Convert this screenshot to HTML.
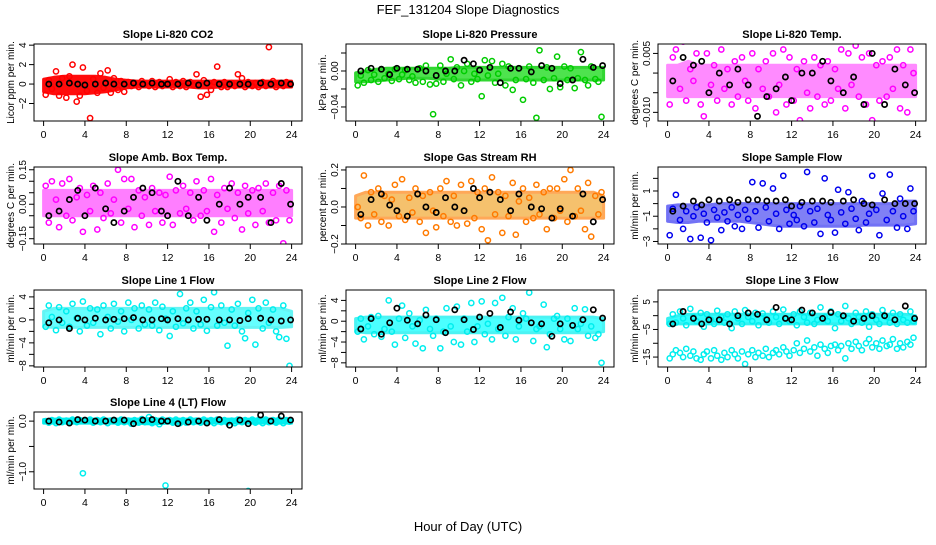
<!DOCTYPE html>
<html><head><meta charset="utf-8"><style>
body{margin:0;background:#fff}
svg text{font-family:"Liberation Sans",Arial,sans-serif}
</style></head><body>
<svg id="chart" width="936" height="540" viewBox="0 0 936 540" xmlns="http://www.w3.org/2000/svg">
<rect width="936" height="540" fill="#fff"/>
<text x="468" y="14" text-anchor="middle" font-size="13">FEF_131204  Slope Diagnostics</text>
<text x="468" y="531" text-anchor="middle" font-size="13">Hour of Day (UTC)</text>
</svg>
<script>
const hours=[0.2,0.5,0.8,1.2,1.5,1.8,2.2,2.5,2.8,3.2,3.5,3.8,4.2,4.5,4.8,5.2,5.5,5.8,6.2,6.5,6.8,7.2,7.5,7.8,8.2,8.5,8.8,9.2,9.5,9.8,10.2,10.5,10.8,11.2,11.5,11.8,12.2,12.5,12.8,13.2,13.5,13.8,14.2,14.5,14.8,15.2,15.5,15.8,16.2,16.5,16.8,17.2,17.5,17.8,18.2,18.5,18.8,19.2,19.5,19.8,20.2,20.5,20.8,21.2,21.5,21.8,22.2,22.5,22.8,23.2,23.5,23.8];
const blackHours=[0.5,1.5,2.5,3.3,4.0,5.0,6.0,6.8,7.8,8.7,9.6,10.5,11.4,12.0,13.0,14.0,15.0,15.8,17.0,18.0,19.0,19.8,21.0,22.0,23.0,23.9];
const bandHours=[0,1,2,3,4,5,6,7,8,9,10,11,12,13,14,15,16,17,18,19,20,21,22,23,24];
const xTicks=[0,4,8,12,16,20,24];

const co2Lo=[-0.8,-1,-1,-1,-1,-0.9,-0.8,-0.6,-0.4,-0.3,-0.3,-0.3,-0.3,-0.3,-0.3,-0.4,-0.4,-0.3,-0.3,-0.3,-0.3,-0.3,-0.3,-0.3,-0.3];
const co2Hi=[0.5,0.7,0.8,0.8,0.8,0.8,0.7,0.5,0.4,0.3,0.3,0.3,0.3,0.3,0.3,0.3,0.3,0.3,0.3,0.3,0.3,0.3,0.3,0.3,0.3];
const co2Pts=[-1.1,0.4,-0.5,1.3,-1.2,0.6,-1.4,0.8,2.0,-1.8,-1.2,1.7,-0.7,-3.5,0.5,-0.9,1.1,-0.4,1.4,-0.9,0.6,-0.6,0.3,-0.8,0.2,-0.2,0.1,-0.3,0.3,0.0,-0.2,0.3,-0.3,0.2,-0.2,0.1,0.5,-0.3,0.2,-0.2,0.3,-0.3,0.2,-0.1,1.0,-1.3,0.4,-1.1,-0.6,0.2,1.8,-0.3,0.2,-0.3,0.1,-0.2,1.0,0.6,-0.3,0.2,-0.2,0.1,-0.3,0.2,-0.2,3.8,0.3,-0.3,0.1,-0.2,0.2,-0.1];
const co2Blk=[0,0,0.1,0,-0.1,0,0.1,0,0,0.1,0,0.1,0,0,0,0.1,-0.1,0.1,0,0,0,0,0.1,0,0.1,0];

const presLo=[-0.012,-0.012,-0.011,-0.01,-0.009,-0.008,-0.008,-0.008,-0.009,-0.009,-0.01,-0.01,-0.01,-0.01,-0.01,-0.01,-0.01,-0.01,-0.01,-0.01,-0.01,-0.01,-0.01,-0.01,-0.01];
const presHi=[-0.002,0.0,0.002,0.003,0.003,0.003,0.003,0.003,0.003,0.003,0.004,0.004,0.004,0.004,0.004,0.004,0.004,0.004,0.004,0.004,0.004,0.004,0.004,0.004,0.004];
const presPts=[-0.016,-0.005,-0.013,0.001,-0.01,-0.004,-0.012,0.002,-0.008,-0.003,-0.011,0.002,-0.009,-0.004,0.001,-0.01,-0.006,-0.013,0.003,-0.012,0.006,-0.015,-0.048,-0.014,0.006,-0.012,-0.003,0.013,-0.009,0.004,-0.016,0.0,0.008,-0.012,-0.003,-0.009,-0.028,0.012,-0.005,0.011,-0.013,-0.003,0.008,-0.016,0.005,-0.021,-0.01,0.003,-0.032,-0.009,0.005,-0.013,-0.052,0.023,-0.01,0.004,-0.02,-0.008,0.016,-0.018,0.005,-0.01,0.003,-0.019,-0.008,0.021,-0.01,-0.016,0.005,-0.009,-0.012,-0.051];
const presBlk=[0.0,0.003,0.002,-0.004,0.003,0.002,0.002,0.0,-0.005,0.0,0.0,0.012,0.008,0.001,0.004,-0.013,0.003,0.003,-0.001,0.006,0.003,-0.014,-0.01,0.013,0.004,0.006];

const tempLo=[-0.006,-0.006,-0.006,-0.006,-0.006,-0.006,-0.006,-0.006,-0.006,-0.006,-0.006,-0.006,-0.006,-0.006,-0.006,-0.006,-0.006,-0.006,-0.006,-0.006,-0.006,-0.006,-0.006,-0.006,-0.006];
const tempHi=[0.002,0.002,0.003,0.002,0.002,0.002,0.002,0.002,0.002,0.002,0.002,0.002,0.002,0.002,0.002,0.002,0.002,0.002,0.002,0.002,0.002,0.002,0.002,0.002,0.002];
const tempPts=[-0.008,0.004,0.006,-0.004,0.008,-0.007,0.001,-0.002,0.005,-0.008,-0.011,0.005,-0.003,0.002,-0.007,0.006,-0.004,0.001,-0.008,0.003,-0.006,0.004,-0.002,-0.007,0.005,-0.009,0.001,-0.004,0.003,-0.006,0.005,-0.01,-0.003,0.006,-0.008,0.004,-0.007,0.001,-0.012,0.003,-0.005,-0.009,0.004,-0.006,0.002,-0.008,0.003,-0.007,0.001,-0.004,0.006,-0.009,0.005,-0.003,0.007,-0.006,0.004,-0.008,0.005,-0.012,0.002,-0.007,0.003,-0.006,0.004,-0.004,0.006,-0.009,0.002,-0.01,0.006,0.0];
const tempBlk=[-0.002,0.004,0.002,0.003,-0.005,0.0,-0.003,0.001,-0.003,-0.011,-0.006,-0.004,-0.001,-0.007,0.0,0.0,0.003,-0.002,-0.005,-0.001,-0.008,0.005,-0.008,0.001,-0.003,-0.005];

const ambLo=[-0.05,-0.05,-0.05,-0.05,-0.05,-0.05,-0.05,-0.05,-0.05,-0.05,-0.05,-0.05,-0.05,-0.05,-0.05,-0.05,-0.05,-0.05,-0.05,-0.05,-0.05,-0.05,-0.05,-0.05,-0.05];
const ambHi=[0.06,0.06,0.06,0.06,0.06,0.06,0.06,0.06,0.06,0.06,0.06,0.06,0.06,0.06,0.06,0.06,0.06,0.06,0.06,0.06,0.06,0.06,0.06,0.06,0.06];
const ambPts=[0.08,-0.08,0.1,0.02,-0.1,0.09,-0.05,0.11,-0.07,0.03,0.07,-0.12,0.04,-0.03,0.08,-0.11,0.05,-0.06,0.09,-0.04,0.02,0.15,-0.08,0.11,-0.02,0.11,-0.1,0.06,-0.05,0.03,-0.09,0.07,-0.03,0.05,-0.08,0.04,0.12,-0.09,0.06,-0.04,0.08,-0.02,0.05,-0.07,0.1,-0.05,0.06,-0.03,0.11,-0.12,0.04,-0.08,0.07,-0.02,0.09,-0.06,0.05,-0.11,0.08,-0.04,0.06,-0.09,0.07,-0.03,0.09,-0.08,0.05,-0.07,0.08,-0.17,0.06,-0.07];
const ambBlk=[-0.05,-0.03,0.02,0.06,-0.05,0.07,-0.02,-0.08,-0.03,0.03,0.07,0.05,-0.03,-0.05,0.1,-0.05,0.03,-0.07,0.0,0.07,0.0,0.03,0.03,-0.08,0.09,0.0];

const rhLo=[-0.06,-0.06,-0.06,-0.06,-0.06,-0.06,-0.06,-0.06,-0.06,-0.06,-0.06,-0.06,-0.06,-0.06,-0.06,-0.06,-0.06,-0.06,-0.06,-0.06,-0.06,-0.06,-0.06,-0.06,-0.06];
const rhHi=[0.06,0.08,0.08,0.08,0.08,0.08,0.08,0.08,0.08,0.08,0.08,0.08,0.08,0.08,0.08,0.08,0.08,0.08,0.08,0.08,0.08,0.08,0.08,0.08,0.06];
const rhPts=[0.0,-0.06,0.17,-0.1,0.08,-0.04,0.1,-0.08,0.06,-0.1,0.04,0.12,-0.05,0.15,-0.07,0.05,-0.03,0.1,-0.08,0.06,-0.14,0.08,-0.02,-0.11,0.1,-0.05,0.14,-0.08,0.06,-0.1,0.12,-0.02,-0.09,0.14,-0.06,0.08,-0.12,0.1,-0.18,0.16,-0.04,0.08,-0.14,0.06,-0.05,0.13,-0.15,0.03,0.1,-0.08,0.05,-0.06,0.12,-0.04,0.08,-0.12,0.1,-0.06,0.1,-0.02,0.15,-0.08,0.2,-0.05,0.1,-0.02,-0.12,0.13,-0.16,0.06,-0.04,0.08];
const rhBlk=[-0.04,0.04,0.07,0.01,-0.02,-0.05,0.07,0.0,-0.03,0.05,0.0,-0.02,0.1,0.05,0.08,0.04,-0.02,0.07,0.0,-0.01,-0.06,-0.01,-0.05,0.07,-0.08,0.04];

const smpLo=[-1.4,-1.5,-1.5,-1.4,-1.4,-1.4,-1.4,-1.4,-1.5,-1.6,-1.7,-1.8,-1.8,-1.8,-1.8,-1.8,-1.8,-1.8,-1.8,-1.7,-1.7,-1.7,-1.7,-1.7,-1.6];
const smpHi=[-0.2,-0.1,-0.1,-0.1,-0.1,0.0,0.0,0.0,0.0,0.0,0.0,0.0,0.0,0.0,0.0,0.0,0.0,0.0,0.0,0.0,0.0,0.0,0.0,0.2,0.2];
const smpPts=[-2.5,-0.4,0.7,-1.3,-2.0,-0.6,-2.8,-1.0,-0.3,-2.7,-0.8,-1.5,-2.9,-0.5,-1.1,-2.1,-0.7,-1.4,-0.3,-1.8,-0.9,-2.0,-0.5,-1.2,1.7,-0.6,-1.9,1.6,-0.3,-1.4,1.2,-0.8,-2.0,2.2,-0.5,-1.6,-0.9,-1.3,-0.2,-1.8,2.5,-0.6,-1.5,-0.4,-2.4,2.0,-0.9,-1.3,-2.3,1.1,-0.7,-1.6,0.9,-0.4,-1.2,-2.1,0.2,-1.5,-0.8,2.2,-0.5,-2.5,0.8,-1.3,2.3,-0.6,-1.9,0.4,-1.0,-2.0,1.2,-0.6];
const smpBlk=[-0.6,-0.2,0.2,-0.1,0.3,0.2,0.3,0.1,0.3,0.3,0.2,0.2,0.3,-0.2,0.1,0.2,0.2,0.1,0.2,0.3,0.0,-0.1,0.3,0.0,0.0,0.0];

const l1Lo=[-1.2,-1.3,-1.3,-1.3,-1.3,-1.3,-1.3,-1.3,-1.3,-1.3,-1.3,-1.3,-1.3,-1.3,-1.3,-1.3,-1.3,-1.3,-1.3,-1.3,-1.3,-1.3,-1.3,-1.3,-1.2];
const l1Hi=[1.5,2.0,2.0,2.0,2.0,2.0,2.0,2.0,2.0,2.0,2.0,2.0,2.0,2.0,2.0,2.0,2.0,2.0,2.0,2.0,2.0,2.0,2.0,2.0,1.5];
const l1Pts=[-1.2,2.5,0.5,-1.8,2.2,-0.5,1.5,-1.2,2.8,0.3,-2.0,3.2,-1.0,2.0,-0.5,1.8,-2.5,2.5,0.5,-1.5,2.8,-0.3,1.5,-2.0,3.0,0.0,2.0,-1.5,2.5,-0.8,1.8,-1.0,3.0,-1.8,2.3,0.2,-2.8,1.5,-1.2,4.5,-0.6,2.0,3.0,-1.5,1.5,-0.8,3.5,-1.9,2.2,4.8,-1.0,2.5,-0.5,-4.5,1.8,-1.0,2.8,-2.0,-3.2,1.2,3.5,-4.3,2.0,-1.5,3.0,-0.5,1.8,-2.0,-3.0,2.5,-3.3,-8.0];
const l1Blk=[-0.5,0.0,-1.5,0.3,0.0,0.3,0.0,0.1,0.2,0.4,0.0,0.0,0.2,0.0,0.2,0.0,0.1,0.1,0.0,0.0,-0.1,0.2,0.3,0.0,-0.2,0.0];

const l2Lo=[-2.0,-2.2,-2.2,-2.2,-2.2,-2.2,-2.2,-2.2,-2.2,-2.2,-2.2,-2.2,-2.2,-2.2,-2.2,-2.2,-2.2,-2.2,-2.2,-2.2,-2.2,-2.2,-2.2,-2.2,-2.0];
const l2Hi=[0.5,0.8,0.8,0.8,0.8,0.8,0.8,0.8,0.8,0.8,0.8,0.8,0.8,0.8,0.8,0.8,0.8,0.8,0.8,0.8,0.8,0.8,0.8,0.8,0.5];
const l2Pts=[-2.0,0.5,-3.5,-1.0,0.8,-2.5,1.0,-3.0,-1.5,4.0,-2.0,-4.5,0.5,3.0,-3.2,1.5,-1.0,-4.3,0.2,-5.2,2.2,-1.5,-2.8,0.5,-5.2,-2.0,2.5,-1.0,-4.0,2.8,-4.5,0.5,-2.0,3.5,-4.0,-1.0,3.8,-2.5,-0.5,-3.5,3.5,-1.5,4.5,-2.8,0.8,2.5,-3.5,-1.0,1.5,0.5,5.5,-3.8,-1.5,-1.0,3.2,-5.0,-2.5,0.5,1.0,-1.5,-3.5,0.5,-3.8,2.5,-1.5,-0.5,2.3,-2.8,-1.0,-3.2,-2.5,-8.0];
const l2Blk=[-1.5,0.5,-2.5,-0.3,2.5,0.2,-0.5,1.2,0.3,-2.2,2.2,0.3,-1.6,0.8,1.5,-1.2,1.8,0.2,-0.3,-0.5,-2.9,-0.5,-0.8,0.3,2.2,0.6];

const l3Lo=[-3.0,-3.0,-3.0,-3.0,-3.0,-3.0,-3.0,-3.0,-3.0,-3.0,-3.0,-3.0,-3.0,-3.0,-3.0,-3.0,-3.0,-3.0,-3.0,-3.0,-3.0,-3.0,-3.0,-3.0,-3.0];
const l3Hi=[-1.0,0.0,0.5,0.5,0.5,0.5,0.5,0.5,0.5,0.5,0.5,0.5,0.5,0.5,0.5,0.5,0.5,0.5,0.5,0.5,0.5,0.5,0.5,0.5,0.0];
const l3Pts=[-3,0.5,-2.5,1.5,-1.0,-3.5,2.5,-0.5,-2.0,1.0,-4.0,0.5,-1.5,-3.0,1.8,-0.5,-2.5,0.5,-4.5,1.5,-1.0,-3.0,2.0,-0.5,-2.0,1.0,-3.5,0.8,-1.2,-2.5,1.5,-0.5,-3.0,2.2,-1.0,-2.0,0.5,-3.5,1.5,-0.5,-2.5,1.0,-3.0,-1.5,3.0,-0.5,-2.0,1.5,-4.5,0.5,-2.0,3.5,-1.0,-3.0,1.0,-0.5,-2.5,1.5,-4.0,0.5,-1.5,-3.0,2.0,-0.5,-2.5,1.0,-3.0,0.5,-1.5,-2.5,1.5,-2.0];
const l3LowPts=[-15.5,-14,-12.5,-13.5,-15,-12,-14.5,-13,-15.5,-16,-14,-13,-15.5,-12.5,-14.5,-16,-13.5,-15,-12.5,-14,-15.5,-13,-17.5,-14,-12.5,-15,-13.5,-14.5,-12,-15,-13.5,-12.5,-14,-11.5,-13,-14.5,-12.5,-10,-13.5,-12,-9,-13,-11.5,-14.5,-10.5,-12,-13.5,-11,-10.5,-12.5,-11,-15.5,-10,-12,-9.5,-11,-12.5,-10,-8.5,-11.5,-10,-12,-9,-11,-10.5,-8.5,-12,-10,-11.5,-9.5,-10.5,-8];
const l3Blk=[-3,1.5,-1,-3,-1.5,-1.5,-3,0,1,0.5,-1.5,3,-1,-1.5,2,1,-1,1.2,0,-2,-1,0,0,-1.5,3.5,-1];

const l4Lo=[-0.04,-0.04,-0.04,-0.04,-0.04,-0.04,-0.04,-0.04,-0.04,-0.04,-0.05,-0.05,-0.04,-0.04,-0.04,-0.04,-0.04,-0.04,-0.04,-0.04,-0.04,-0.04,-0.04,-0.04,-0.04];
const l4Hi=[0.03,0.04,0.04,0.04,0.04,0.04,0.04,0.04,0.04,0.04,0.05,0.04,0.04,0.04,0.04,0.04,0.04,0.04,0.04,0.04,0.04,0.04,0.04,0.04,0.03];
const l4Pts=[0.0,-0.03,0.02,-0.04,0.03,-0.02,0.01,-0.03,0.03,-0.02,0.02,-1.03,0.0,0.03,-0.03,0.02,-0.02,0.03,-0.04,0.01,0.02,-0.03,0.03,-0.02,0.01,-0.05,0.02,-0.03,0.04,-0.02,0.08,-0.04,0.02,-0.06,0.03,-1.27,0.02,-0.03,0.03,-0.04,0.02,-0.03,0.03,-0.02,0.01,-0.03,0.03,-0.02,0.02,-0.04,0.03,-0.02,0.02,-0.03,0.01,-0.04,0.03,-0.02,0.02,-1.38,0.03,-0.03,0.02,-0.04,0.03,-0.02,0.02,-0.03,0.03,-0.04,0.02,-0.01];
const l4Blk=[0,-0.02,-0.04,0.03,0.02,0.0,0.0,0.02,0.02,-0.05,0.02,0.03,0.0,0.0,-0.05,-0.02,0.0,-0.04,0.03,-0.08,0.02,-0.05,0.12,0.0,0.1,0.02];

const panels=[
 {name:'co2',title:'Slope Li-820 CO2',ylab:'Licor ppm per min.',col:0,row:0,ymin:-3.8,ymax:4.12,ticks:[-2,0,2,4],labels:['\u22122','0','2','4'],color:'#ff0000',fill:'#ff0000',op:0.95,lo:co2Lo,hi:co2Hi,pts:[co2Pts],blk:co2Blk},
 {name:'pressure',title:'Slope Li-820 Pressure',ylab:'kPa per min.',col:1,row:0,ymin:-0.0556,ymax:0.030,ticks:[-0.04,-0.02,0,0.02],labels:['\u22120.04','','0.00',''],color:'#00cc00',fill:'#22dd22',op:0.8,lo:presLo,hi:presHi,pts:[presPts],blk:presBlk},
 {name:'li820-temp',title:'Slope Li-820 Temp.',ylab:'degrees C per min.',col:2,row:0,ymin:-0.0122,ymax:0.0074,ticks:[-0.01,-0.005,0,0.005],labels:['\u22120.010','','','0.005'],color:'#ff00ff',fill:'#ff00ff',op:0.45,lo:tempLo,hi:tempHi,pts:[tempPts],blk:tempBlk},
 {name:'amb-box-temp',title:'Slope Amb. Box Temp.',ylab:'degrees C per min.',col:0,row:1,ymin:-0.173,ymax:0.162,ticks:[-0.15,-0.1,-0.05,0,0.05,0.1,0.15],labels:['\u22120.15','','','0.00','','','0.15'],color:'#ff00ff',fill:'#ff00ff',op:0.5,lo:ambLo,hi:ambHi,pts:[ambPts],blk:ambBlk},
 {name:'gas-stream-rh',title:'Slope Gas Stream RH',ylab:'percent per min.',col:1,row:1,ymin:-0.2,ymax:0.216,ticks:[-0.2,-0.1,0,0.1,0.2],labels:['\u22120.2','','0.0','','0.2'],color:'#ff7a00',fill:'#f0a020',op:0.65,lo:rhLo,hi:rhHi,pts:[rhPts],blk:rhBlk},
 {name:'sample-flow',title:'Slope Sample Flow',ylab:'ml/min per min.',col:2,row:1,ymin:-3.2,ymax:2.9,ticks:[-3,-2,-1,0,1,2],labels:['\u22123','','\u22121','','1',''],color:'#0000ee',fill:'#1a1aee',op:0.55,lo:smpLo,hi:smpHi,pts:[smpPts],blk:smpBlk},
 {name:'line1-flow',title:'Slope Line 1 Flow',ylab:'ml/min per min.',col:0,row:2,ymin:-8.2,ymax:5.2,ticks:[-8,-6,-4,-2,0,2,4],labels:['\u22128','','\u22124','','0','','4'],color:'#00eeee',fill:'#00ffff',op:0.6,lo:l1Lo,hi:l1Hi,pts:[l1Pts],blk:l1Blk},
 {name:'line2-flow',title:'Slope Line 2 Flow',ylab:'ml/min per min.',col:1,row:2,ymin:-8.8,ymax:6.0,ticks:[-8,-6,-4,-2,0,2,4],labels:['\u22128','','\u22124','','0','','4'],color:'#00eeee',fill:'#00ffff',op:0.7,lo:l2Lo,hi:l2Hi,pts:[l2Pts],blk:l2Blk},
 {name:'line3-flow',title:'Slope Line 3 Flow',ylab:'ml/min per min.',col:2,row:2,ymin:-18.6,ymax:9.3,ticks:[-15,-10,-5,0,5],labels:['\u221215','','\u22125','','5'],color:'#00eeee',fill:'#00ffff',op:0.8,lo:l3Lo,hi:l3Hi,pts:[l3Pts,l3LowPts],blk:l3Blk},
 {name:'line4-flow',title:'Slope Line 4 (LT) Flow',ylab:'ml/min per min.',col:0,row:3,ymin:-1.34,ymax:0.18,ticks:[-1,-0.5,0],labels:['\u22121.0','','0.0'],color:'#00eeee',fill:'#00ffff',op:1,lo:l4Lo,hi:l4Hi,pts:[l4Pts],blk:l4Blk}
];

const svg=document.getElementById('chart');
const NS='http://www.w3.org/2000/svg';
const colX=[34,346,658], rowY=[44,167,290,412], W=268, H=77;
function mk(tag,attrs,parent){const e=document.createElementNS(NS,tag);for(const k in attrs)e.setAttribute(k,attrs[k]);parent.appendChild(e);return e;}

panels.forEach(p=>{
  const x0=colX[p.col], y0=rowY[p.row];
  const sx=h=>x0+9.6+h*248/24;
  const sy=v=>y0+H-(v-p.ymin)/(p.ymax-p.ymin)*H;
  const g=mk('g',{},svg);
  
  
  const t=mk('text',{x:x0+W/2,y:y0-6,'text-anchor':'middle','font-size':'11','font-weight':'bold'},g);
  t.textContent=p.title;
  
  
  const clip=mk('clipPath',{id:'c'+p.name},g);
  mk('rect',{x:x0,y:y0,width:W,height:H},clip);
  const plot=mk('g',{'clip-path':'url(#c'+p.name+')'},g);
  let d='';
  bandHours.forEach((h,i)=>{d+=(i?'L':'M')+sx(h).toFixed(1)+','+sy(p.hi[i]).toFixed(1);});
  for(let i=bandHours.length-1;i>=0;i--)d+='L'+sx(bandHours[i]).toFixed(1)+','+sy(p.lo[i]).toFixed(1);
  const band=mk('path',{d:d+'Z',fill:p.fill,stroke:p.color,'stroke-width':'3','stroke-linejoin':'round',opacity:p.op},plot);
  
  
  p.pts.forEach(arr=>{
    arr.forEach((v,i)=>{
      if(i>=hours.length)return;
      const c=mk('circle',{cx:sx(hours[i]).toFixed(1),cy:sy(v).toFixed(1),r:'2.6',fill:'none',stroke:p.color,'stroke-width':'1.5'},plot);
      
      
    });
  });
  p.blk.forEach((v,i)=>{
    const c=mk('circle',{cx:sx(blackHours[i]).toFixed(1),cy:sy(v).toFixed(1),r:'2.6',fill:'none',stroke:'#000','stroke-width':'1.7'},plot);
    
    
  });
  const box=mk('rect',{x:x0,y:y0,width:W,height:H,fill:'none',stroke:'#000','stroke-width':'1'},g);
  
  
  mk('line',{x1:sx(0),x2:sx(24),y1:y0+H,y2:y0+H,stroke:'#000'},g);
  xTicks.forEach(h=>{
    mk('line',{x1:sx(h),x2:sx(h),y1:y0+H,y2:y0+H+5,stroke:'#000'},g);
    const tl=mk('text',{x:sx(h),y:y0+H+17,'text-anchor':'middle','font-size':'10.5'},g);
    tl.textContent=h;
    
    
  });
  const ta=p.ticks[0], tb=p.ticks[p.ticks.length-1];
  mk('line',{x1:x0,x2:x0,y1:sy(ta),y2:sy(tb),stroke:'#000'},g);
  p.ticks.forEach((v,i)=>{
    mk('line',{x1:x0-5,x2:x0,y1:sy(v),y2:sy(v),stroke:'#000'},g);
    if(p.labels[i]){
      const yy=sy(v);
      const tl=mk('text',{x:x0-8,y:yy,'text-anchor':'middle','font-size':'10',transform:'rotate(-90 '+(x0-8)+' '+yy+')'},g);
      tl.textContent=p.labels[i];
      
      
    }
  });
  const yl=mk('text',{x:x0-20,y:y0+H/2,'text-anchor':'middle','font-size':'10',transform:'rotate(-90 '+(x0-20)+' '+(y0+H/2)+')'},g);
  yl.textContent=p.ylab;
  
  
});
</script>
</body></html>
